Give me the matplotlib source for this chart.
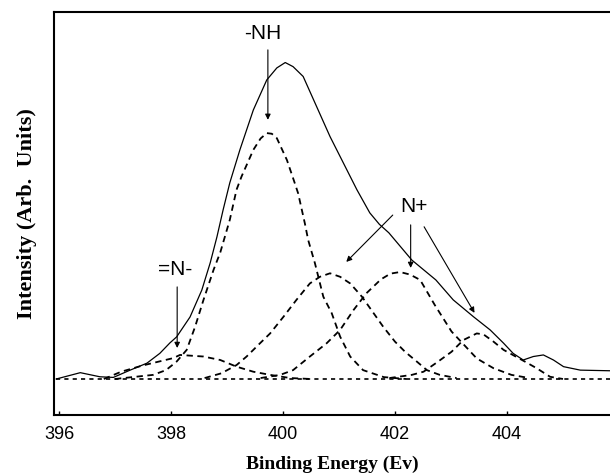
import matplotlib
matplotlib.use("Agg")
import matplotlib.pyplot as plt

# Measured envelope (solid line)
env_x = [395.95, 396.38, 396.73, 396.97, 397.27, 397.57, 397.80, 397.98, 398.10, 398.34,
         398.55, 398.70, 398.82, 398.93, 399.05, 399.23, 399.47, 399.71, 399.89, 400.04,
         400.18, 400.36, 400.60, 400.84, 401.08, 401.32, 401.55, 401.72, 401.89, 402.30,
         402.73, 403.04, 403.40, 403.70, 403.94, 404.11, 404.29, 404.47, 404.65, 404.83,
         405.01, 405.31, 405.84]
env_y = [0.0, 2.0, 0.7, 0.5, 2.8, 5.0, 8.1, 11.4, 13.3, 19.6,
         28.1, 36.7, 44.9, 53.4, 62.0, 72.4, 85.0, 94.5, 98.3, 100.0,
         98.7, 95.6, 86.1, 76.6, 68.2, 59.8, 52.5, 48.9, 46.2, 37.6,
         31.3, 25.0, 19.7, 15.5, 11.3, 8.1, 6.0, 7.1, 7.6, 6.0,
         3.9, 2.8, 2.6]

# Fitted components (dashed)
nh_x = [397.00, 397.68, 397.91, 398.10, 398.28, 398.43, 398.58, 398.76, 398.88, 399.05,
        399.17, 399.26, 399.47, 399.60, 399.71, 399.80, 399.89, 400.07, 400.21, 400.27,
        400.39, 400.45, 400.57, 400.72, 400.87, 401.02, 401.20, 401.43, 401.80, 402.20]
nh_y = [0.0, 1.3, 2.8, 5.5, 9.2, 16.5, 25.0, 34.5, 40.0, 50.3,
        59.8, 64.0, 72.4, 76.0, 77.7, 77.5, 76.1, 69.2, 61.9, 58.7,
        49.2, 43.9, 36.6, 26.0, 20.8, 13.4, 7.1, 2.8, 0.6, 0.0]

imine_x = [396.80, 397.11, 397.50, 398.04, 398.16, 398.58, 398.88, 399.17, 399.47, 399.77,
           400.13, 400.50]
imine_y = [0.0, 2.3, 4.3, 6.6, 7.6, 7.1, 6.0, 3.9, 2.3, 1.3,
           0.3, 0.0]

np1_x = [398.60, 398.90, 399.17, 399.35, 399.59, 399.77, 400.01, 400.24, 400.48, 400.66,
         400.84, 401.02, 401.20, 401.41, 401.79, 402.00, 402.18, 402.39, 402.57, 402.80,
         403.10]
np1_y = [0.3, 1.8, 4.4, 7.1, 11.3, 14.4, 19.7, 25.0, 30.2, 32.3,
         33.4, 32.3, 30.2, 26.0, 16.5, 11.8, 8.6, 5.5, 2.8, 1.3,
         0.3]

np2_x = [399.60, 399.95, 400.18, 400.48, 400.78, 401.02, 401.26, 401.49, 401.75, 401.92,
         402.09, 402.27, 402.45, 402.71, 403.01, 403.46, 403.76, 404.08, 404.40]
np2_y = [0.3, 1.3, 2.8, 7.1, 11.3, 15.5, 21.8, 27.1, 31.5, 33.3,
         33.8, 33.0, 31.3, 23.4, 15.0, 6.5, 3.4, 1.3, 0.3]

np3_x = [401.90, 402.30, 402.51, 402.77, 403.01, 403.22, 403.46, 403.58, 403.76, 403.94,
         404.32, 404.53, 404.77, 405.00]
np3_y = [0.3, 1.3, 2.3, 5.5, 8.6, 12.3, 14.4, 14.1, 11.8, 9.2,
         5.5, 3.4, 0.7, 0.0]

base_x = [395.95, 405.84]
base_y = [0.0, 0.0]

ticks = [396, 398, 400, 402, 404]

fig = plt.figure(figsize=(6.1, 4.76), dpi=100)
ax = fig.add_axes([0.0885, 0.128, 0.9115, 0.847])

ax.plot(env_x, env_y, color="black", lw=0.9)
for xs, ys in [(nh_x, nh_y), (imine_x, imine_y), (np1_x, np1_y), (np2_x, np2_y), (np3_x, np3_y)]:
    ax.plot(xs, ys, color="black", lw=1.3, dashes=(3.5, 2.5))
ax.plot(base_x, base_y, color="black", lw=1.2, dashes=(2.5, 2.5))

# labels and arrows
arrow = dict(arrowstyle="-|>", color="black", lw=0.8, mutation_scale=8, shrinkA=0, shrinkB=0)
txt = dict(fontsize=15, family="Liberation Sans", ha="center", va="center")
ax.text(399.64, 109.1, "-NH", **txt)
ax.annotate("", xy=(399.73, 81.9), xytext=(399.73, 104.0), arrowprops=arrow)
ax.text(398.07, 34.5, "=N-", **txt)
ax.annotate("", xy=(398.11, 9.8), xytext=(398.11, 29.1), arrowprops=arrow)
ax.text(402.33, 54.4, "N+", **txt)
ax.annotate("", xy=(401.13, 37.0), xytext=(401.96, 51.8), arrowprops=arrow)
ax.annotate("", xy=(402.28, 35.1), xytext=(402.28, 48.7), arrowprops=arrow)
ax.annotate("", xy=(403.42, 20.9), xytext=(402.52, 48.1), arrowprops=arrow)

ax.set_xlim(395.91, 405.84)
ax.set_ylim(-11.4, 116.0)
ax.set_xticks(ticks)
ax.set_xticklabels([str(t) for t in ticks], fontsize=13, family="Liberation Sans")
ax.set_yticks([])
ax.tick_params(axis="x", direction="in", length=3, width=1, pad=8)
ax.spines["right"].set_visible(False)
for s in ["left", "bottom", "top"]:
    ax.spines[s].set_linewidth(1.5)

ax.set_xlabel("Binding Energy (Ev)", fontsize=14, family="Liberation Serif", fontweight="bold", labelpad=9)
ax.set_ylabel("Intensity (Arb.  Units)", fontsize=16, family="Liberation Serif", fontweight="bold", labelpad=12)

fig.savefig("out.png", dpi=100)
